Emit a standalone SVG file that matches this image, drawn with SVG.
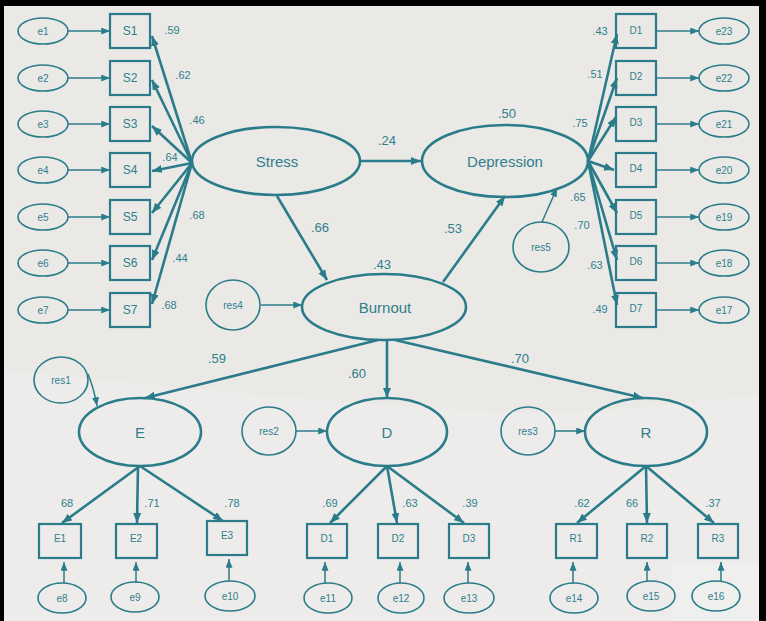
<svg xmlns="http://www.w3.org/2000/svg" width="766" height="621" viewBox="0 0 766 621">
<style>
.bg{fill:#eae9e6}
.lat{fill:none;stroke:#2b7c8a;stroke-width:2.6}
.box{fill:none;stroke:#2b7c8a;stroke-width:2.2}
.err{fill:none;stroke:#2b7c8a;stroke-width:1.6}
.th{stroke:#2b7c8a;stroke-width:2.6;fill:none}
.tn{stroke:#2b7c8a;stroke-width:1.5;fill:none}
text{font-family:"Liberation Sans",Arial,sans-serif;fill:#2f7f8d;text-anchor:middle;dominant-baseline:central}
.big{font-size:15px}
.mid{font-size:12px}
.sm{font-size:10px}
.num{font-size:13px}
.nsm{font-size:11px}
</style>
<defs>
<marker id="ah" viewBox="0 0 10 8" refX="10" refY="4" markerWidth="10" markerHeight="8" markerUnits="userSpaceOnUse" orient="auto"><path d="M0,0 L10,4 L0,8 z" fill="#2b7c8a"/></marker>
<marker id="as" viewBox="0 0 10 8" refX="10" refY="4" markerWidth="9" markerHeight="7" markerUnits="userSpaceOnUse" orient="auto"><path d="M0,0 L10,4 L0,8 z" fill="#2b7c8a"/></marker>
</defs>
<rect width="766" height="621" fill="#000"/>
<rect x="4" y="6" width="755" height="615" class="bg"/>
<path d="M4,370 C150,385 300,400 470,410 C600,418 700,400 759,395 L759,621 L4,621 Z" fill="#edecea"/>
<rect x="672" y="563" width="87" height="58" fill="#efefed"/>

<g id="connectors">
<line class="tn" x1="68" y1="31" x2="110" y2="31" marker-end="url(#as)"/>
<line class="tn" x1="68" y1="78" x2="110" y2="78" marker-end="url(#as)"/>
<line class="tn" x1="68" y1="124" x2="110" y2="124" marker-end="url(#as)"/>
<line class="tn" x1="68" y1="170" x2="110" y2="170" marker-end="url(#as)"/>
<line class="tn" x1="68" y1="217" x2="110" y2="217" marker-end="url(#as)"/>
<line class="tn" x1="68" y1="263" x2="110" y2="263" marker-end="url(#as)"/>
<line class="tn" x1="68" y1="310" x2="110" y2="310" marker-end="url(#as)"/>
<line class="th" x1="192" y1="163" x2="152" y2="36" marker-end="url(#ah)"/>
<line class="th" x1="192" y1="163" x2="152" y2="80" marker-end="url(#ah)"/>
<line class="th" x1="192" y1="163" x2="152" y2="126" marker-end="url(#ah)"/>
<line class="th" x1="192" y1="163" x2="152" y2="171" marker-end="url(#ah)"/>
<line class="th" x1="192" y1="163" x2="152" y2="213" marker-end="url(#ah)"/>
<line class="th" x1="192" y1="163" x2="152" y2="260" marker-end="url(#ah)"/>
<line class="th" x1="192" y1="163" x2="152" y2="304" marker-end="url(#ah)"/>
<line class="th" x1="588" y1="161" x2="617" y2="34" marker-end="url(#ah)"/>
<line class="th" x1="588" y1="161" x2="617" y2="78" marker-end="url(#ah)"/>
<line class="th" x1="588" y1="161" x2="616" y2="117" marker-end="url(#ah)"/>
<line class="th" x1="588" y1="161" x2="614" y2="170" marker-end="url(#ah)"/>
<line class="th" x1="588" y1="161" x2="617" y2="213" marker-end="url(#ah)"/>
<line class="th" x1="588" y1="161" x2="617" y2="260" marker-end="url(#ah)"/>
<line class="th" x1="588" y1="161" x2="617" y2="305" marker-end="url(#ah)"/>
<line class="tn" x1="656" y1="31" x2="699" y2="31" marker-end="url(#as)"/>
<line class="tn" x1="656" y1="78" x2="699" y2="78" marker-end="url(#as)"/>
<line class="tn" x1="656" y1="124" x2="699" y2="124" marker-end="url(#as)"/>
<line class="tn" x1="656" y1="170" x2="699" y2="170" marker-end="url(#as)"/>
<line class="tn" x1="656" y1="217" x2="699" y2="217" marker-end="url(#as)"/>
<line class="tn" x1="656" y1="263" x2="699" y2="263" marker-end="url(#as)"/>
<line class="tn" x1="656" y1="310" x2="699" y2="310" marker-end="url(#as)"/>
<line class="th" x1="360" y1="161" x2="421" y2="161" marker-end="url(#ah)"/>
<line class="th" x1="277" y1="196" x2="327" y2="280" marker-end="url(#ah)"/>
<line class="th" x1="443" y1="282" x2="505" y2="196" marker-end="url(#ah)"/>
<line class="tn" x1="261" y1="305" x2="302" y2="305" marker-end="url(#as)"/>
<line class="tn" x1="542" y1="222" x2="557" y2="188" marker-end="url(#as)"/>
<line class="th" x1="378" y1="340" x2="145" y2="398" marker-end="url(#ah)"/>
<line class="th" x1="387" y1="340" x2="387" y2="398" marker-end="url(#ah)"/>
<line class="th" x1="395" y1="340" x2="643" y2="398" marker-end="url(#ah)"/>
<path class="tn" d="M88,374 C92,384 95,394 97,406" marker-end="url(#as)"/>
<line class="tn" x1="296" y1="431" x2="327" y2="431" marker-end="url(#as)"/>
<line class="tn" x1="555" y1="431" x2="585" y2="431" marker-end="url(#as)"/>
<line class="th" x1="140" y1="466" x2="62" y2="523" marker-end="url(#ah)"/>
<line class="th" x1="138" y1="466" x2="137" y2="523" marker-end="url(#ah)"/>
<line class="th" x1="140" y1="466" x2="223" y2="521" marker-end="url(#ah)"/>
<line class="th" x1="387" y1="466" x2="330" y2="523" marker-end="url(#ah)"/>
<line class="th" x1="387" y1="466" x2="397" y2="523" marker-end="url(#ah)"/>
<line class="th" x1="387" y1="466" x2="464" y2="523" marker-end="url(#ah)"/>
<line class="th" x1="646" y1="466" x2="577" y2="523" marker-end="url(#ah)"/>
<line class="th" x1="646" y1="466" x2="647" y2="523" marker-end="url(#ah)"/>
<line class="th" x1="646" y1="466" x2="714" y2="523" marker-end="url(#ah)"/>
<line class="tn" x1="64" y1="583" x2="64" y2="562" marker-end="url(#as)"/>
<line class="tn" x1="136" y1="583" x2="136" y2="562" marker-end="url(#as)"/>
<line class="tn" x1="229" y1="581" x2="229" y2="559" marker-end="url(#as)"/>
<line class="tn" x1="325" y1="583" x2="325" y2="562" marker-end="url(#as)"/>
<line class="tn" x1="400" y1="583" x2="400" y2="562" marker-end="url(#as)"/>
<line class="tn" x1="468" y1="583" x2="468" y2="562" marker-end="url(#as)"/>
<line class="tn" x1="573" y1="583" x2="573" y2="562" marker-end="url(#as)"/>
<line class="tn" x1="647" y1="581" x2="647" y2="562" marker-end="url(#as)"/>
<line class="tn" x1="721" y1="581" x2="721" y2="562" marker-end="url(#as)"/>
</g>

<g id="e1"><ellipse class="err" cx="43" cy="31" rx="25" ry="13"/><text class="sm" x="43" y="31">e1</text></g>
<g id="e2"><ellipse class="err" cx="43" cy="78" rx="25" ry="13"/><text class="sm" x="43" y="78">e2</text></g>
<g id="e3"><ellipse class="err" cx="43" cy="124" rx="25" ry="13"/><text class="sm" x="43" y="124">e3</text></g>
<g id="e4"><ellipse class="err" cx="43" cy="170" rx="25" ry="13"/><text class="sm" x="43" y="170">e4</text></g>
<g id="e5"><ellipse class="err" cx="43" cy="217" rx="25" ry="13"/><text class="sm" x="43" y="217">e5</text></g>
<g id="e6"><ellipse class="err" cx="43" cy="263" rx="25" ry="13"/><text class="sm" x="43" y="263">e6</text></g>
<g id="e7"><ellipse class="err" cx="43" cy="310" rx="25" ry="13"/><text class="sm" x="43" y="310">e7</text></g>

<g id="S1"><rect class="box" x="110" y="14" width="40" height="34"/><text class="mid" x="130" y="31">S1</text></g>
<g id="S2"><rect class="box" x="110" y="61" width="40" height="34"/><text class="mid" x="130" y="78">S2</text></g>
<g id="S3"><rect class="box" x="110" y="107" width="40" height="34"/><text class="mid" x="130" y="124">S3</text></g>
<g id="S4"><rect class="box" x="110" y="153" width="40" height="34"/><text class="mid" x="130" y="170">S4</text></g>
<g id="S5"><rect class="box" x="110" y="200" width="40" height="34"/><text class="mid" x="130" y="217">S5</text></g>
<g id="S6"><rect class="box" x="110" y="246" width="40" height="34"/><text class="mid" x="130" y="263">S6</text></g>
<g id="S7"><rect class="box" x="110" y="293" width="40" height="34"/><text class="mid" x="130" y="310">S7</text></g>

<g id="D1r"><rect class="box" x="616" y="14" width="40" height="34"/><text class="sm" x="636" y="30">D1</text></g>
<g id="D2r"><rect class="box" x="616" y="61" width="40" height="34"/><text class="sm" x="636" y="76">D2</text></g>
<g id="D3r"><rect class="box" x="616" y="107" width="40" height="34"/><text class="sm" x="636" y="122">D3</text></g>
<g id="D4r"><rect class="box" x="616" y="153" width="40" height="34"/><text class="sm" x="636" y="168">D4</text></g>
<g id="D5r"><rect class="box" x="616" y="200" width="40" height="34"/><text class="sm" x="636" y="215">D5</text></g>
<g id="D6r"><rect class="box" x="616" y="246" width="40" height="34"/><text class="sm" x="636" y="261">D6</text></g>
<g id="D7r"><rect class="box" x="616" y="293" width="40" height="34"/><text class="sm" x="636" y="308">D7</text></g>

<g id="e23"><ellipse class="err" cx="724" cy="31" rx="25" ry="13"/><text class="sm" x="724" y="31">e23</text></g>
<g id="e22"><ellipse class="err" cx="724" cy="78" rx="25" ry="13"/><text class="sm" x="724" y="78">e22</text></g>
<g id="e21"><ellipse class="err" cx="724" cy="124" rx="25" ry="13"/><text class="sm" x="724" y="124">e21</text></g>
<g id="e20"><ellipse class="err" cx="724" cy="170" rx="25" ry="13"/><text class="sm" x="724" y="170">e20</text></g>
<g id="e19"><ellipse class="err" cx="724" cy="217" rx="25" ry="13"/><text class="sm" x="724" y="217">e19</text></g>
<g id="e18"><ellipse class="err" cx="724" cy="263" rx="25" ry="13"/><text class="sm" x="724" y="263">e18</text></g>
<g id="e17"><ellipse class="err" cx="724" cy="310" rx="25" ry="13"/><text class="sm" x="724" y="310">e17</text></g>

<g id="Stress"><ellipse class="lat" cx="276" cy="161" rx="84" ry="34"/><text class="big" x="277" y="161">Stress</text></g>
<g id="Depression"><ellipse class="lat" cx="505" cy="161" rx="83" ry="36"/><text class="big" x="505" y="161">Depression</text></g>
<g id="Burnout"><ellipse class="lat" cx="384" cy="307" rx="82" ry="33"/><text class="big" x="385" y="307">Burnout</text></g>
<g id="res4"><ellipse class="err" cx="233" cy="305" rx="27" ry="25"/><text class="sm" x="233" y="305">res4</text></g>
<g id="res5"><ellipse class="err" cx="541" cy="247" rx="28" ry="25"/><text class="sm" x="541" y="247">res5</text></g>

<g id="E"><ellipse class="lat" cx="140" cy="432" rx="61" ry="34"/><text class="big" x="140" y="432">E</text></g>
<g id="D"><ellipse class="lat" cx="387" cy="432" rx="60" ry="34"/><text class="big" x="387" y="432">D</text></g>
<g id="R"><ellipse class="lat" cx="646" cy="432" rx="61" ry="34"/><text class="big" x="646" y="432">R</text></g>
<g id="res1"><ellipse class="err" cx="61" cy="380" rx="27" ry="23"/><text class="sm" x="61" y="380">res1</text></g>
<g id="res2"><ellipse class="err" cx="269" cy="431" rx="27" ry="24"/><text class="sm" x="269" y="431">res2</text></g>
<g id="res3"><ellipse class="err" cx="528" cy="431" rx="27" ry="24"/><text class="sm" x="528" y="431">res3</text></g>

<g id="E1"><rect class="box" x="39" y="524" width="42" height="34"/><text class="sm" x="60" y="538">E1</text></g>
<g id="E2"><rect class="box" x="116" y="524" width="41" height="34"/><text class="sm" x="136" y="538">E2</text></g>
<g id="E3"><rect class="box" x="207" y="521" width="40" height="34"/><text class="sm" x="227" y="535">E3</text></g>
<g id="D1"><rect class="box" x="307" y="524" width="40" height="34"/><text class="sm" x="327" y="538">D1</text></g>
<g id="D2"><rect class="box" x="378" y="524" width="40" height="34"/><text class="sm" x="398" y="538">D2</text></g>
<g id="D3"><rect class="box" x="449" y="524" width="40" height="34"/><text class="sm" x="469" y="538">D3</text></g>
<g id="R1"><rect class="box" x="556" y="524" width="41" height="34"/><text class="sm" x="576" y="538">R1</text></g>
<g id="R2"><rect class="box" x="627" y="524" width="40" height="34"/><text class="sm" x="647" y="538">R2</text></g>
<g id="R3"><rect class="box" x="698" y="524" width="40" height="34"/><text class="sm" x="718" y="538">R3</text></g>

<g id="e8"><ellipse class="err" cx="62" cy="598" rx="24" ry="15"/><text class="sm" x="62" y="598">e8</text></g>
<g id="e9"><ellipse class="err" cx="135" cy="597" rx="24" ry="15"/><text class="sm" x="135" y="597">e9</text></g>
<g id="e10"><ellipse class="err" cx="230" cy="596" rx="25" ry="15"/><text class="sm" x="230" y="596">e10</text></g>
<g id="e11"><ellipse class="err" cx="328" cy="598" rx="24" ry="15"/><text class="sm" x="328" y="598">e11</text></g>
<g id="e12"><ellipse class="err" cx="401" cy="598" rx="23" ry="15"/><text class="sm" x="401" y="598">e12</text></g>
<g id="e13"><ellipse class="err" cx="469" cy="598" rx="25" ry="15"/><text class="sm" x="469" y="598">e13</text></g>
<g id="e14"><ellipse class="err" cx="574" cy="598" rx="24" ry="15"/><text class="sm" x="574" y="598">e14</text></g>
<g id="e15"><ellipse class="err" cx="651" cy="596" rx="24" ry="15"/><text class="sm" x="651" y="596">e15</text></g>
<g id="e16"><ellipse class="err" cx="716" cy="596" rx="24" ry="15"/><text class="sm" x="716" y="596">e16</text></g>

<g id="labels">
<text class="nsm" x="172" y="30">.59</text>
<text class="nsm" x="183" y="75">.62</text>
<text class="nsm" x="197" y="120">.46</text>
<text class="nsm" x="170" y="157">.64</text>
<text class="nsm" x="197" y="215">.68</text>
<text class="nsm" x="180" y="258">.44</text>
<text class="nsm" x="169" y="305">.68</text>
<text class="nsm" x="600" y="31">.43</text>
<text class="nsm" x="595" y="74">.51</text>
<text class="nsm" x="580" y="123">.75</text>
<text class="nsm" x="578" y="197">.65</text>
<text class="nsm" x="582" y="225">.70</text>
<text class="nsm" x="595" y="265">.63</text>
<text class="nsm" x="600" y="309">.49</text>
<text class="num" x="387" y="140">.24</text>
<text class="num" x="507" y="113">.50</text>
<text class="num" x="320" y="227">.66</text>
<text class="num" x="453" y="228">.53</text>
<text class="num" x="382" y="264">.43</text>
<text class="num" x="217" y="358">.59</text>
<text class="num" x="357" y="373">.60</text>
<text class="num" x="520" y="358">.70</text>
<text class="nsm" x="67" y="503">68</text>
<text class="nsm" x="152" y="503">.71</text>
<text class="nsm" x="232" y="503">.78</text>
<text class="nsm" x="330" y="503">.69</text>
<text class="nsm" x="410" y="503">.63</text>
<text class="nsm" x="470" y="503">.39</text>
<text class="nsm" x="582" y="503">.62</text>
<text class="nsm" x="632" y="503">66</text>
<text class="nsm" x="713" y="503">.37</text>
</g>
</svg>
